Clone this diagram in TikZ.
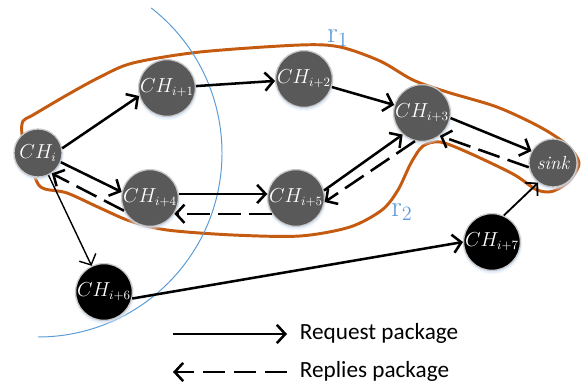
\documentclass[tikz,border=0pt]{standalone}
\usepackage{fontspec}
\newfontfamily\legfont{Carlito}
\usetikzlibrary{arrows.meta,shadows,backgrounds}
\definecolor{CHGray}     {HTML}{595959}
\definecolor{CHRim}      {HTML}{C8C8C8}
\definecolor{RouteOrange}{HTML}{C55A11}
\definecolor{RangeBlue}  {HTML}{5B9BD5}
\definecolor{GlowBlue}   {HTML}{CFE0F5}

\begin{document}
\begin{tikzpicture}[x=0.025cm,y=-0.025cm,
    ch/.style={circle,draw=CHRim,line width=0.9pt,fill=#1,
               minimum size=1.2cm,inner sep=0pt,text=white,
               font=\fontsize{13.5}{15}\selectfont,
               circular drop shadow={fill=GlowBlue,opacity=1,shadow xshift=0pt,
                                     shadow yshift=-1pt,shadow scale=1.08}},
    ch/.default=CHGray,
    req/.style={-{Straight Barb[length=6pt,width=13pt]},line width=1.8pt},
    rep/.style={req,dash pattern=on 16pt off 6pt},
    lbl/.style={text=RangeBlue,font=\fontsize{21}{24}\selectfont},
    leg/.style={anchor=west,font=\legfont\fontsize{16.5}{19}\selectfont}
  ]
    \useasboundingbox (0,0) rectangle (585,387);
    % cluster heads
    \node[ch]       (chi)  at (38,153)  {$CH_i$};
    \node[ch]       (ch1)  at (167,88)  {$CH_{i+1}$};
    \node[ch]       (ch2)  at (304,79)  {$CH_{i+2}$};
    \node[ch]       (ch3)  at (422,113) {$CH_{i+3}$};
    \node[ch]       (sink) at (553,163) {$\mathit{sink}$};
    \node[ch]       (ch4)  at (150,198) {$CH_{i+4}$};
    \node[ch]       (ch5)  at (296,198) {$CH_{i+5}$};
    \node[ch=black] (ch6)  at (104,292) {$CH_{i+6}$};
    \node[ch=black] (ch7)  at (492,242) {$CH_{i+7}$};
    % routes and range
    \begin{scope}[on background layer]
      \draw[RouteOrange,line width=2.1pt] plot[smooth cycle,tension=0.5] coordinates {
        (28,155) (22,134) (23,121) (33,115) (67,95) (100,77) (133,63) (200,52)
        (300,45) (340,47) (380,61) (413,80) (447,92) (497,107) (540,127) (567,145)
        (579,163) (570,180) (558,189) (548,192) (535,189) (513,174) (467,152)
        (440,142) (423,146) (411,163) (398,190) (382,210) (350,227) (300,236)
        (233,235) (167,230) (130,221) (100,208) (67,193) (45,189) (37,182)};
      \draw[RangeBlue,line width=0.7pt] (chi.center) ++(-52:184)
        arc[start angle=-52,end angle=90,radius=184];
    \end{scope}
    \node[lbl] (r1) at (338,38)  {$\mathrm{r}_1$};
    \node[lbl] (r2) at (402,212) {$\mathrm{r}_2$};
    % request packages
    \foreach \a/\b in {chi.11/ch1.196,ch1/ch2,ch2/ch3,ch3.-10/sink.151,
                       chi.-22/ch4.168,ch4.8/ch5.172,ch5.15/ch3.-132,ch6.-13/ch7.180}
      \draw[req] (\a) -- (\b);
    \draw[req,line width=1pt] (chi) -- (ch6);
    \draw[req,line width=1.3pt] (ch7.66) -- (sink.233);
    % replies packages
    \foreach \a/\b in {sink.190/ch3.-52,ch3.-104/ch5.-8,ch5.-147/ch4.-33,ch4.-154/chi.-56}
      \draw[rep] (\a) -- (\b);
    % legend
    \coordinate (rq0) at (173,334);
    \coordinate (rq1) at (287,334);
    \coordinate (rp0) at (287,372);
    \coordinate (rp1) at (173,372);
    \draw[req] (rq0) -- (rq1);
    \draw[rep] (rp0) -- (rp1);
    \node[leg] (rqt) at (295,333) {Request package};
    \node[leg] (rpt) at (295,371) {Replies package};
\end{tikzpicture}
\end{document}
